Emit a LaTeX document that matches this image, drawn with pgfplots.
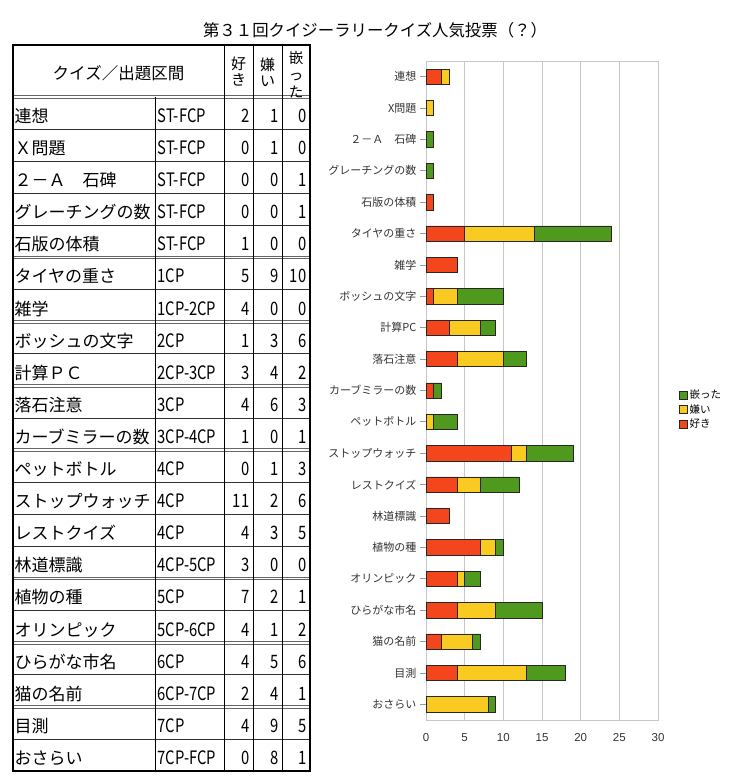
\documentclass[border=0pt]{standalone}
\usepackage{fontspec}
\usepackage{pgfplots}
\usepackage{pgfplotstable}
\pgfplotsset{compat=1.18}
\setmainfont{Liberation Sans}
\newfontfamily\cjk{Noto Sans CJK JP}
\newfontfamily\cjkn[FakeStretch=0.8]{Noto Sans CJK JP}
\definecolor{likec}{HTML}{F4461C}
\definecolor{dislc}{HTML}{F9CB22}
\definecolor{hookc}{HTML}{4F9A1E}

\pgfplotstableread{
idx like dislike hooked
0 2 1 0
1 0 1 0
2 0 0 1
3 0 0 1
4 1 0 0
5 5 9 10
6 4 0 0
7 1 3 6
8 3 4 2
9 4 6 3
10 1 0 1
11 0 1 3
12 11 2 6
13 4 3 5
14 3 0 0
15 7 2 1
16 4 1 2
17 4 5 6
18 2 4 1
19 4 9 5
20 0 8 1
}\votes

\begin{document}
\begin{tikzpicture}[x=1pt,y=1pt]
\useasboundingbox (0,0) rectangle (740,783);
\node[font=\cjk\fontsize{16.4}{18}\selectfont, inner sep=0pt] at (375,753) {第３１回クイジーラリークイズ人気投票（？）};

\begin{scope}[yshift=783pt, y=-1pt]
  % horizontal row lines
  \foreach \k in {1,2,3,4,6,8,10,12,13,14,16,18,20} {
    \draw[line width=0.7pt, black!80] (13,97+32.1*\k) -- (310,97+32.1*\k);
  }
  \foreach \k in {0,5,7,9,11,15,17,19} {
    \draw[line width=0.7pt, black!60] (13,97+32.1*\k-1.3) -- (310,97+32.1*\k-1.3);
    \draw[line width=0.7pt, black!60] (13,97+32.1*\k+1.3) -- (310,97+32.1*\k+1.3);
  }
  % vertical lines
  \draw[line width=0.8pt] (155,97) -- (155,771);
  \draw[line width=0.8pt] (224,45) -- (224,771);
  \draw[line width=0.8pt] (253,45) -- (253,771);
  \draw[line width=0.8pt] (282,45) -- (282,771);
  \draw[line width=2.6pt] (13,45) rectangle (310,771);
  % header
  \node[font=\cjk\fontsize{16.5}{18}\selectfont, inner sep=0pt] at (118.5,73) {クイズ／出題区間};
  \node[align=center, font=\cjk\fontsize{15}{16}\selectfont, inner sep=0pt] at (238.5,72) {好\\き};
  \node[align=center, font=\cjk\fontsize{15}{16}\selectfont, inner sep=0pt] at (267.5,72) {嫌\\い};
  \node[align=center, font=\cjk\fontsize{14.5}{17}\selectfont, inner sep=0pt] at (296,74.5) {嵌\\っ\\た};
  % rows
  \foreach \nm/\iv/\a/\b/\c [count=\i from 0] in {
    連想/ST-FCP/2/1/0,
    Ｘ問題/ST-FCP/0/1/0,
    ２－Ａ　石碑/ST-FCP/0/0/1,
    グレーチングの数/ST-FCP/0/0/1,
    石版の体積/ST-FCP/1/0/0,
    タイヤの重さ/1CP/5/9/10,
    雑学/1CP-2CP/4/0/0,
    ボッシュの文字/2CP/1/3/6,
    計算ＰＣ/2CP-3CP/3/4/2,
    落石注意/3CP/4/6/3,
    カーブミラーの数/3CP-4CP/1/0/1,
    ペットボトル/4CP/0/1/3,
    ストップウォッチ/4CP/11/2/6,
    レストクイズ/4CP/4/3/5,
    林道標識/4CP-5CP/3/0/0,
    植物の種/5CP/7/2/1,
    オリンピック/5CP-6CP/4/1/2,
    ひらがな市名/6CP/4/5/6,
    猫の名前/6CP-7CP/2/4/1,
    目測/7CP/4/9/5,
    おさらい/7CP-FCP/0/8/1} {
    \pgfmathsetmacro\yb{97+32.1*\i+25.5}
    \node[anchor=base west, inner sep=0pt, font=\cjk\fontsize{17}{19}\selectfont] at (14.5,\yb) {\nm};
    \node[anchor=base west, inner sep=0pt, font=\cjkn\fontsize{18.5}{19}\selectfont] at (157.5,\yb) {\iv};
    \node[anchor=base east, inner sep=0pt, font=\cjkn\fontsize{18.5}{19}\selectfont] at (249.5,\yb) {\a};
    \node[anchor=base east, inner sep=0pt, font=\cjkn\fontsize{18.5}{19}\selectfont] at (278.5,\yb) {\b};
    \node[anchor=base east, inner sep=0pt, font=\cjkn\fontsize{18.5}{19}\selectfont] at (306.5,\yb) {\c};
  }
\end{scope}

\begin{axis}[
  at={(542pt,392.5pt)}, anchor=center,
  width=232pt, height=659pt, scale only axis,
  xbar stacked, bar width=15.3pt,
  xmin=0, xmax=30, ymin=-0.5, ymax=20.5, y dir=reverse,
  xtick={0,5,...,30}, ytick={0,...,20},
  yticklabels={連想,X問題,２－Ａ　石碑,グレーチングの数,石版の体積,タイヤの重さ,雑学,ボッシュの文字,計算PC,落石注意,カーブミラーの数,ペットボトル,ストップウォッチ,レストクイズ,林道標識,植物の種,オリンピック,ひらがな市名,猫の名前,目測,おさらい},
  xmajorgrids, major grid style={draw=black!22, line width=0.8pt},
  axis line style={draw=black!22, line width=0.8pt},
  tick align=outside, major tick length=6pt,
  ytick pos=left,
  ytick style={draw=black!40, line width=0.8pt},
  xtick style={draw=none},
  yticklabel style={font=\cjk\fontsize{11}{13}\selectfont, text=black!80},
  xticklabel style={font=\fontsize{11.5}{13}\selectfont, text=black!80, yshift=-4pt},
  /pgf/number format/assume math mode=true,
  legend style={font=\cjk\fontsize{10.5}{12}\selectfont, draw=none, fill=none,
    at={(axis description cs:1.09,0.504)}, anchor=north west, row sep=0pt, inner sep=0pt},
  legend cell align=left,
  reverse legend,
  legend image code/.code={\draw[#1] (0pt,-4pt) rectangle (8pt,4pt);},
  every axis plot/.append style={draw=black!85, line width=0.6pt},
]
\addplot[fill=likec] table[x=like,y=idx]{\votes};
\addplot[fill=dislc] table[x=dislike,y=idx]{\votes};
\addplot[fill=hookc] table[x=hooked,y=idx]{\votes};
\legend{好き,嫌い,嵌った}
\end{axis}
\end{tikzpicture}
\end{document}
